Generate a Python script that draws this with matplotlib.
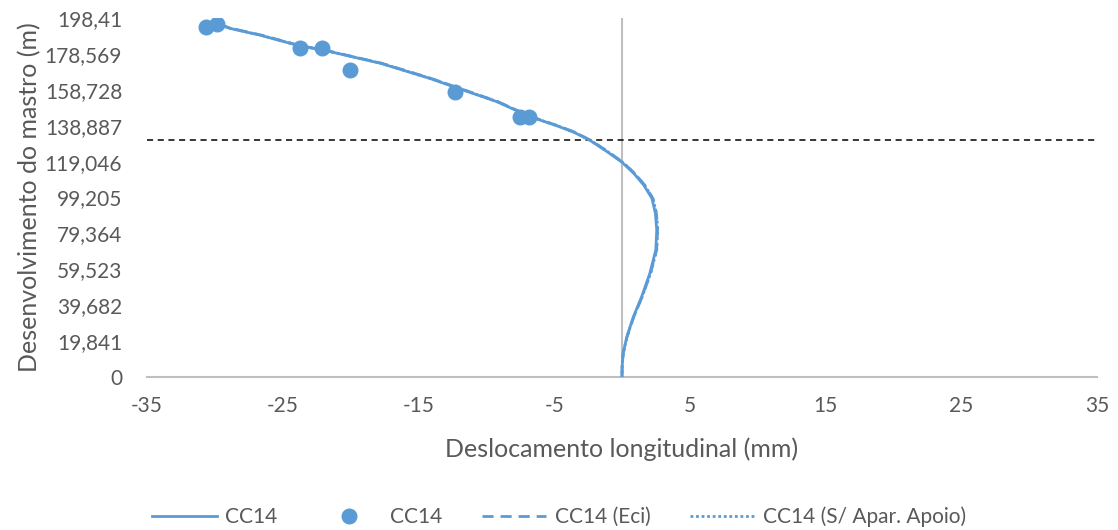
import matplotlib
matplotlib.use("Agg")
import matplotlib.pyplot as plt
from matplotlib.ticker import FixedLocator, FixedFormatter

plt.rcParams['font.family'] = ['Lato', 'DejaVu Sans']
plt.rcParams['axes.unicode_minus'] = False

BLUE = '#5B9BD5'
TEXT = '#595959'

# Displacement profile along the mast (mm vs m)
cc14_x = [-29.8, -28.9, -26.7, -24.0, -21.5, -17.8, -14.15, -11.7, -9.23, -6.78,
          -4.78, -3.55, -2.32, -1.09, 0.0, 0.86, 1.6, 2.2, 2.46, 2.56, 2.49, 2.05,
          1.45, 0.84, 0.36, 0.08, 0.01, 0.0]
cc14_y = [195.0, 192.7, 189.0, 183.5, 179.8, 173.4, 165.0, 158.6, 152.2, 143.9,
          138.8, 135.3, 130.6, 124.5, 118.7, 112.6, 106.1, 98.8, 90.5, 81.3, 70.2,
          57.3, 44.4, 33.3, 22.3, 13.1, 5.7, 0.0]

eci_x = [-29.7, -28.8, -26.6, -23.9, -21.4, -17.7, -14.05, -11.6, -9.15, -6.7,
         -4.7, -3.48, -2.25, -1.02, 0.06, 0.93, 1.67, 2.27, 2.53, 2.62, 2.55, 2.1,
         1.49, 0.87, 0.38, 0.09, 0.01, 0.0]
eci_y = cc14_y

sapoio_x = [-29.75, -28.85, -26.65, -23.95, -21.45, -17.75, -14.1, -11.65, -9.19,
            -6.74, -4.74, -3.51, -2.28, -1.05, 0.04, 0.91, 1.66, 2.27, 2.54, 2.64,
            2.56, 2.11, 1.49, 0.86, 0.37, 0.09, 0.01, 0.0]
sapoio_y = cc14_y

# Measured points
meas_x = [-30.65, -29.82, -23.73, -22.13, -20.04, -12.3, -7.51, -6.83]
meas_y = [193.6, 195.1, 181.7, 181.7, 169.7, 157.7, 143.5, 143.9]

ref_level = 131.0

x_ticks = [-35, -25, -15, -5, 5, 15, 25, 35]
y_ticks = [0, 19.841, 39.682, 59.523, 79.364, 99.205, 119.046, 138.887,
           158.728, 178.569, 198.41]
y_tick_labels = ['0', '19,841', '39,682', '59,523', '79,364', '99,205',
                 '119,046', '138,887', '158,728', '178,569', '198,41']

fig = plt.figure(figsize=(11.18, 5.30), dpi=100)
ax = fig.add_axes([0.1315, 0.2887, 0.8497, 0.6773])

ax.plot(cc14_x, cc14_y, color=BLUE, lw=2.0, label='CC14', zorder=4)
ax.plot(meas_x, meas_y, 'o', color=BLUE, ms=10.5, label='CC14', zorder=5)
ax.plot(eci_x, eci_y, color=BLUE, lw=2.0, ls=(0, (4, 2.5)), label='CC14 (Eci)', zorder=3)
ax.plot(sapoio_x, sapoio_y, color=BLUE, lw=2.0, ls=(0, (1, 1)),
        label='CC14 (S/ Apar. Apoio)', zorder=3)

ax.axhline(ref_level, color='black', lw=1.1, ls=(0, (4, 3)), zorder=2)
ax.axvline(0, color='#BFBFBF', lw=1.5, zorder=1)

ax.set_xlim(-35, 35)
ax.set_ylim(0, 198.41)
ax.xaxis.set_major_locator(FixedLocator(x_ticks))
ax.yaxis.set_major_locator(FixedLocator(y_ticks))
ax.yaxis.set_major_formatter(FixedFormatter(y_tick_labels))

for s in ['top', 'right', 'left']:
    ax.spines[s].set_visible(False)
ax.spines['bottom'].set_color('#BFBFBF')
ax.spines['bottom'].set_linewidth(1.5)
ax.tick_params(length=0, labelsize=15, labelcolor=TEXT)
ax.tick_params(axis='x', pad=14)
ax.tick_params(axis='y', pad=18)

ax.set_xlabel('Deslocamento longitudinal (mm)', fontsize=18, color=TEXT, labelpad=15)
ax.set_ylabel('Desenvolvimento do mastro (m)', fontsize=18, color=TEXT, labelpad=2)

fig.legend(loc='center', bbox_to_anchor=(0.5, 1 - 517 / 530), ncol=4, frameon=False,
           fontsize=15, labelcolor=TEXT, handlelength=3.1, columnspacing=1.9,
           handletextpad=0.4)

fig.savefig('out.png', dpi=100)
